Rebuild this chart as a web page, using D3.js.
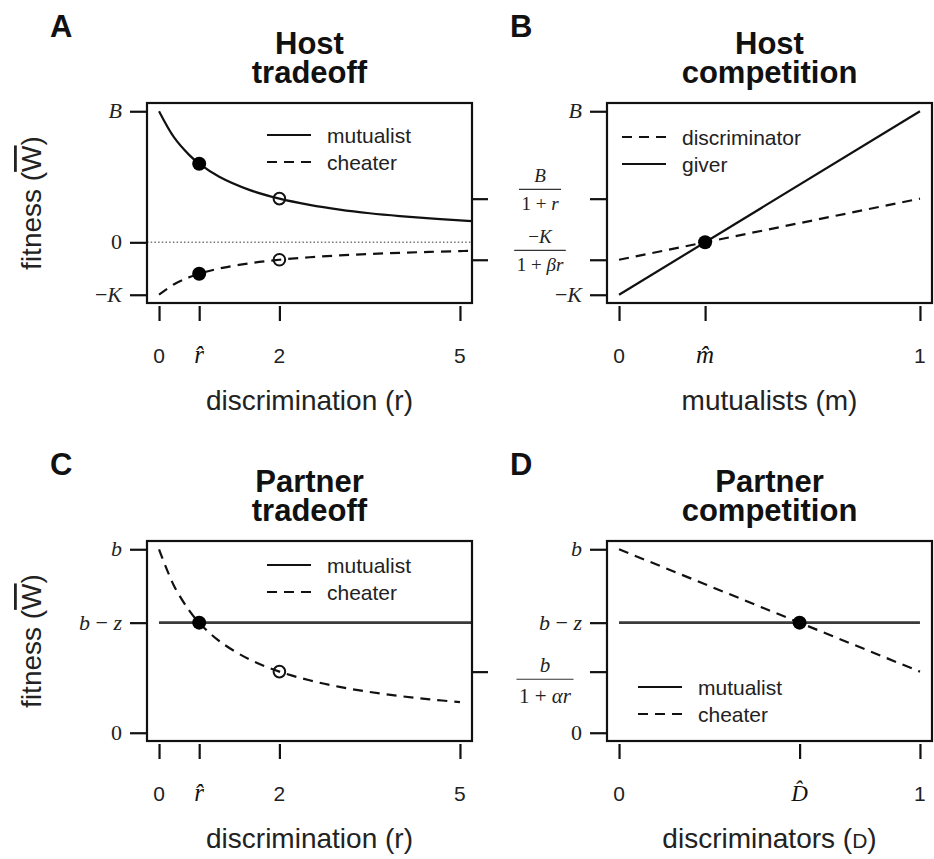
<!DOCTYPE html>
<html>
<head>
<meta charset="utf-8">
<script src="https://cdn.jsdelivr.net/npm/d3@7"></script>
<style>
  html, body { margin: 0; padding: 0; background: #ffffff; }
  svg { display: block; }
</style>
</head>
<body>
<svg id="fig" width="934" height="859"></svg>
<script>
// ---- Host tradeoff (A): fitness against discrimination r ----
const hostR          = [0, 0.25, 0.5, 0.667, 1, 1.5, 2, 2.5, 3, 3.5, 4, 4.5, 5, 5.2];
const hostMutualistW = [1, 0.8, 0.667, 0.6, 0.5, 0.4, 0.333, 0.286, 0.25, 0.222, 0.2, 0.182, 0.167, 0.161];
const hostCheaterW   = [-0.4, -0.32, -0.267, -0.24, -0.2, -0.16, -0.133, -0.114, -0.1, -0.089, -0.08, -0.073, -0.067, -0.065];
const hostFilledR    = [0.667, 0.667];
const hostFilledW    = [0.6, -0.24];
const hostOpenR      = [2, 2];
const hostOpenW      = [0.333, -0.133];

// ---- Host competition (B): fitness against mutualist share m ----
const mutualistShare = [0, 1];
const giverW         = [-0.4, 1];
const discriminatorW = [-0.133, 0.333];
const hostEqM        = [0.286];
const hostEqW        = [0];

// ---- Partner tradeoff (C) ----
const partnerR          = [0, 0.25, 0.5, 0.667, 1, 1.5, 2, 2.5, 3, 3.5, 4, 4.5, 5];
const partnerCheaterW   = [1, 0.8, 0.667, 0.6, 0.5, 0.4, 0.333, 0.286, 0.25, 0.222, 0.2, 0.182, 0.167];
const partnerMutR       = [0, 5.2];
const partnerMutW       = [0.6, 0.6];
const partnerFilledR    = [0.667];
const partnerFilledW    = [0.6];
const partnerOpenR      = [2];
const partnerOpenW      = [0.333];

// ---- Partner competition (D): fitness against discriminator share D ----
const discriminatorShare = [0, 1];
const partnerCompMutW    = [0.6, 0.6];
const partnerCompCheatW  = [1, 0.333];
const partnerEqD         = [0.6];
const partnerEqW         = [0.6];

// ---- Tick values and labels ----
// Label markup: _x_ = italic, ^x = hatted italic symbol, "num|den" = fraction
const rTicks      = [0, 0.667, 2, 5];
const rTickLabels = ["0", "^r", "2", "5"];
const mTicks      = [0, 0.286, 1];
const mTickLabels = ["0", "^m", "1"];
const dTicks      = [0, 0.6, 1];
const dTickLabels = ["0", "^D", "1"];

const hostYTicks        = [-0.4, 0, 1];
const hostYLabels       = ["−_K_", "0", "_B_"];
const hostRightTicks    = [0.333, -0.133];
const hostCompYTicks    = [-0.4, -0.133, 0.333, 1];
const hostCompYLabels   = ["−_K_", "−_K_|1 + _βr_", "_B_|1 + _r_", "_B_"];
const partnerYTicks     = [0, 0.6, 1];
const partnerYLabels    = ["0", "_b_ − _z_", "_b_"];
const partnerRightTicks = [0.333];
const partnerCompYTicks = [0, 0.333, 0.6, 1];
const partnerCompYLabels= ["0", "_b_|1 + _αr_", "_b_ − _z_", "_b_"];

const SANS  = "'Liberation Sans', Arial, Helvetica, sans-serif";
const SERIF = "'Liberation Serif', 'Times New Roman', serif";
const INK   = "#111";

const svg = d3.select("#fig");
const W = 325, H = 200;

function padded(lo, hi, f) { const p = (hi - lo) * f; return [lo - p, hi + p]; }

// write a run of math markup into a <text>
function writeMath(text, s) {
  const parts = s.split("_");
  parts.forEach((p, i) => {
    if (!p) return;
    text.append("tspan").attr("font-style", i % 2 ? "italic" : "normal").text(p);
  });
}

function panel(cfg) {
  const g = svg.append("g");
  const L = cfg.left, T = cfg.top, R = L + W, Bm = T + H;
  const x = d3.scaleLinear().domain(padded(cfg.xDomain[0], cfg.xDomain[1], 0.04)).range([L, R]);
  const y = d3.scaleLinear().domain(padded(cfg.yDomain[0], cfg.yDomain[1], 0.045)).range([Bm, T]);

  // panel letter and two-line title
  g.append("text").attr("x", L - 97).attr("y", T - 66)
    .attr("font-family", SANS).attr("font-weight", "bold").attr("font-size", 31)
    .attr("fill", INK).text(cfg.letter);
  const title = g.append("text").attr("x", (L + R) / 2).attr("y", T - 49)
    .attr("text-anchor", "middle").attr("font-family", SANS)
    .attr("font-weight", "bold").attr("font-size", 31).attr("fill", INK);
  cfg.title.forEach((t, i) => {
    title.append("tspan").attr("x", (L + R) / 2).attr("dy", i ? 29 : 0).text(t);
  });

  // reference lines
  (cfg.hlines || []).forEach(h => {
    g.append("line").attr("x1", L).attr("x2", R).attr("y1", y(h)).attr("y2", y(h))
      .attr("stroke", "#777").attr("stroke-width", 1.6).attr("stroke-dasharray", "1.5,2.2");
  });

  // series
  cfg.series.forEach(s => {
    const pts = s.xs.map((v, i) => [x(v), y(s.ys[i])]);
    g.append("path")
      .attr("d", d3.line().curve(d3.curveCatmullRom.alpha(0.5))(pts))
      .attr("fill", "none").attr("stroke", s.color || INK)
      .attr("stroke-width", s.width || 2.2)
      .attr("stroke-dasharray", s.dashed ? "10,7" : null);
  });

  // points
  (cfg.open || []).forEach(p => {
    p.xs.forEach((v, i) => {
      g.append("circle").attr("cx", x(v)).attr("cy", y(p.ys[i])).attr("r", 5.8)
        .attr("fill", "none").attr("stroke", INK).attr("stroke-width", 2);
    });
  });
  (cfg.filled || []).forEach(p => {
    p.xs.forEach((v, i) => {
      g.append("circle").attr("cx", x(v)).attr("cy", y(p.ys[i])).attr("r", 7).attr("fill", "#000");
    });
  });

  // frame
  g.append("rect").attr("x", L).attr("y", T).attr("width", W).attr("height", H)
    .attr("fill", "none").attr("stroke", INK).attr("stroke-width", 2.2);

  // x axis: ticks only (detached a little from the frame)
  const xa = d3.axisBottom(x).tickValues(cfg.xTicks).tickSize(15).tickFormat("");
  const xg = g.append("g").attr("transform", `translate(0,${Bm + 3})`).call(xa);
  xg.select(".domain").remove();
  xg.selectAll(".tick line").attr("stroke", INK).attr("stroke-width", 2.2);
  cfg.xTicks.forEach((v, i) => {
    const lab = cfg.xLabels[i];
    if (lab.startsWith("^")) {
      const sym = lab.slice(1);
      const isCap = sym === sym.toUpperCase();
      // hatted symbol via combining circumflex
      g.append("text").attr("x", x(v)).attr("y", Bm + 60).attr("text-anchor", "middle")
        .attr("font-family", SERIF).attr("font-style", "italic")
        .attr("font-size", isCap ? 23 : 25).attr("fill", INK).text(sym + "\u0302");
    } else {
      g.append("text").attr("x", x(v)).attr("y", Bm + 60).attr("text-anchor", "middle")
        .attr("font-family", SANS).attr("font-size", 21).attr("fill", "#222").text(lab);
    }
  });

  // y axis (left): ticks touching the frame
  const ya = d3.axisLeft(y).tickValues(cfg.yTicks).tickSize(17).tickFormat("");
  const yg = g.append("g").attr("transform", `translate(${L},0)`).call(ya);
  yg.select(".domain").remove();
  yg.selectAll(".tick line").attr("stroke", INK).attr("stroke-width", 2.2);
  cfg.yTicks.forEach((v, i) => {
    const lab = cfg.yLabels[i];
    const ty = y(v);
    if (lab.includes("|")) {
      const [num, den] = lab.split("|");
      const fs = cfg.fracSize;
      const cx = L + cfg.fracDx;
      const o = cfg.fracOffsets; // [numerator baseline, bar, denominator baseline]
      const nt = g.append("text").attr("x", cx).attr("y", ty + o[0]).attr("text-anchor", "middle")
        .attr("font-family", SERIF).attr("font-size", fs).attr("fill", "#222");
      writeMath(nt, num);
      const dt = g.append("text").attr("x", cx).attr("y", ty + o[2]).attr("text-anchor", "middle")
        .attr("font-family", SERIF).attr("font-size", fs).attr("fill", "#222");
      writeMath(dt, den);
      const w = Math.max(nt.node().getComputedTextLength(), dt.node().getComputedTextLength()) + 5;
      g.append("line").attr("x1", cx - w / 2).attr("x2", cx + w / 2)
        .attr("y1", ty + o[1]).attr("y2", ty + o[1]).attr("stroke", "#333").attr("stroke-width", 1.2);
    } else {
      const t = g.append("text").attr("x", L - 25).attr("y", ty + 7).attr("text-anchor", "end")
        .attr("font-family", SERIF).attr("font-size", 22).attr("fill", "#222");
      writeMath(t, lab);
    }
  });

  // right-side ticks without labels
  if (cfg.rightTicks) {
    const ra = d3.axisRight(y).tickValues(cfg.rightTicks).tickSize(16).tickFormat("");
    const rg = g.append("g").attr("transform", `translate(${R},0)`).call(ra);
    rg.select(".domain").remove();
    rg.selectAll(".tick line").attr("stroke", INK).attr("stroke-width", 2.2);
  }

  // legend
  const lg = cfg.legend;
  lg.items.forEach((it, i) => {
    const ly = lg.y + i * 27;
    g.append("line").attr("x1", lg.x).attr("x2", lg.x + 44).attr("y1", ly).attr("y2", ly)
      .attr("stroke", INK).attr("stroke-width", 2.2)
      .attr("stroke-dasharray", it.dashed ? "10,7" : null);
    g.append("text").attr("x", lg.x + 60).attr("y", ly + 7.5)
      .attr("font-family", SANS).attr("font-size", 21).attr("fill", "#222").text(it.label);
  });

  // x axis title
  const xt = g.append("text").attr("x", (L + R) / 2).attr("y", Bm + 107).attr("text-anchor", "middle")
    .attr("font-family", SANS).attr("font-size", 28).attr("fill", "#222");
  cfg.xTitle.forEach(part => {
    xt.append("tspan").attr("font-size", part.small ? 21 : null).text(part.t);
  });

  // y axis title
  if (cfg.yTitle) {
    const yt = g.append("text")
      .attr("transform", `translate(${L - 106},${(T + Bm) / 2}) rotate(-90)`)
      .attr("text-anchor", "middle").attr("font-family", SANS).attr("font-size", 28).attr("fill", "#222");
    yt.append("tspan").text("fitness (");
    yt.append("tspan").style("text-decoration", "overline").text("W");
    yt.append("tspan").text(")");
  }
}

panel({
  letter: "A", title: ["Host", "tradeoff"], left: 147, top: 103,
  xDomain: [0, 5], yDomain: [-0.4, 1],
  xTicks: rTicks, xLabels: rTickLabels,
  yTicks: hostYTicks, yLabels: hostYLabels, rightTicks: hostRightTicks,
  hlines: [0],
  series: [
    { xs: hostR, ys: hostMutualistW },
    { xs: hostR, ys: hostCheaterW, dashed: true }
  ],
  filled: [{ xs: hostFilledR, ys: hostFilledW }],
  open: [{ xs: hostOpenR, ys: hostOpenW }],
  legend: { x: 267, y: 135, items: [{ label: "mutualist" }, { label: "cheater", dashed: true }] },
  xTitle: [{ t: "discrimination (r)" }],
  yTitle: true
});

panel({
  letter: "B", title: ["Host", "competition"], left: 607, top: 103,
  xDomain: [0, 1], yDomain: [-0.4, 1],
  xTicks: mTicks, xLabels: mTickLabels,
  yTicks: hostCompYTicks, yLabels: hostCompYLabels,
  fracSize: 19, fracDx: -67, fracOffsets: [-16.5, -9.3, 11.5],
  series: [
    { xs: mutualistShare, ys: discriminatorW, dashed: true },
    { xs: mutualistShare, ys: giverW }
  ],
  filled: [{ xs: hostEqM, ys: hostEqW }],
  legend: { x: 622, y: 137, items: [{ label: "discriminator", dashed: true }, { label: "giver" }] },
  xTitle: [{ t: "mutualists (m)" }]
});

panel({
  letter: "C", title: ["Partner", "tradeoff"], left: 147, top: 541,
  xDomain: [0, 5], yDomain: [0, 1],
  xTicks: rTicks, xLabels: rTickLabels,
  yTicks: partnerYTicks, yLabels: partnerYLabels, rightTicks: partnerRightTicks,
  series: [
    { xs: partnerMutR, ys: partnerMutW, color: "#3a3a3a", width: 2.8 },
    { xs: partnerR, ys: partnerCheaterW, dashed: true }
  ],
  filled: [{ xs: partnerFilledR, ys: partnerFilledW }],
  open: [{ xs: partnerOpenR, ys: partnerOpenW }],
  legend: { x: 267, y: 565, items: [{ label: "mutualist" }, { label: "cheater", dashed: true }] },
  xTitle: [{ t: "discrimination (r)" }],
  yTitle: true
});

panel({
  letter: "D", title: ["Partner", "competition"], left: 607, top: 541,
  xDomain: [0, 1], yDomain: [0, 1],
  xTicks: dTicks, xLabels: dTickLabels,
  yTicks: partnerCompYTicks, yLabels: partnerCompYLabels,
  fracSize: 21, fracDx: -62, fracOffsets: [0, 7.6, 31.5],
  series: [
    { xs: discriminatorShare, ys: partnerCompMutW, color: "#3a3a3a", width: 2.8 },
    { xs: discriminatorShare, ys: partnerCompCheatW, dashed: true }
  ],
  filled: [{ xs: partnerEqD, ys: partnerEqW }],
  legend: { x: 638, y: 687, items: [{ label: "mutualist" }, { label: "cheater", dashed: true }] },
  xTitle: [{ t: "discriminators (" }, { t: "D", small: true }, { t: ")" }]
});
</script>
</body>
</html>
